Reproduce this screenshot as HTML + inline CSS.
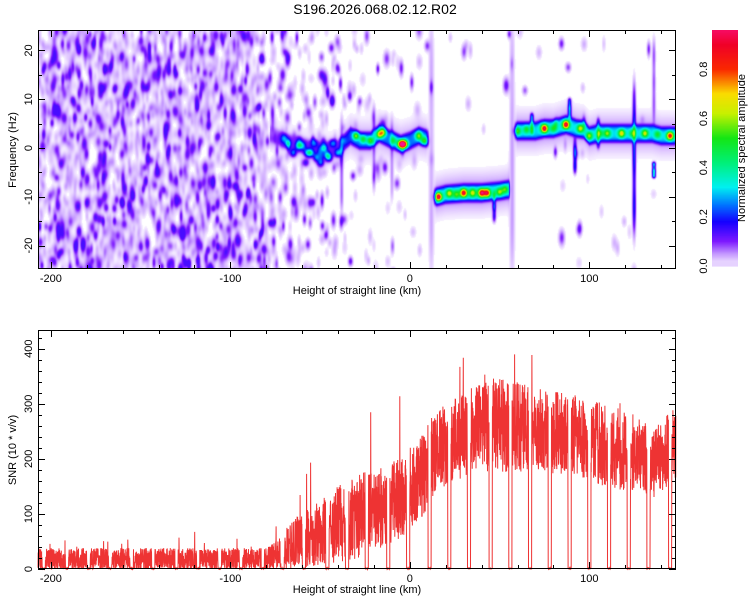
<!DOCTYPE html>
<html><head><meta charset="utf-8">
<style>
body{margin:0;background:#fff;width:750px;height:600px;overflow:hidden;font-family:"Liberation Sans",sans-serif;}
#root{position:relative;width:750px;height:600px;}
canvas{position:absolute;}
svg{position:absolute;left:0;top:0;}
</style></head>
<body>
<div id="root">
<canvas id="hm" width="638" height="239" style="left:38px;top:30px"></canvas>
<svg id="ov" width="750" height="600">
<text x="375" y="14" text-anchor="middle" font-size="14">S196.2026.068.02.12.R02</text>
<text x="357" y="294" text-anchor="middle" font-size="11">Height of straight line (km)</text>
<text transform="translate(16,150) rotate(-90)" text-anchor="middle" font-size="11">Frequency (Hz)</text>
<text x="357" y="593" text-anchor="middle" font-size="11">Height of straight line (km)</text>
<text transform="translate(16,450) rotate(-90)" text-anchor="middle" font-size="11">SNR (10 * v/v)</text>
<text transform="translate(745,148) rotate(-90)" text-anchor="middle" font-size="11">Normalized spectral amplitude</text>
<g id="g"></g>
</svg>
</div>
<script>
// ---------- data ----------
const xTickLabels=[-200,-100,0,100];
const fTickLabels=[-20,-10,0,10,20];
const snrTickLabels=[0,100,200,300,400];
const cbTickLabels=[0.0,0.2,0.4,0.6,0.8];
// ridge
const ridgeKm=[-78,-70,-60,-50,-40,-33,-28,-22,-17,-12,-5,0,5,9,11,13,15,20,30,40,50,55,56,58,60,70,75,80,87,93,97,100,105,110,115,120,125,130,135,140,145,149];
const ridgeFreq=[3,1.5,0.5,-0.5,0,2.5,1.5,1.5,3,2,0.8,1.5,2.5,2,2,-10,-10,-9.5,-9.2,-9.2,-8.8,-8.5,-8.5,3.5,3.5,3.5,4,4,4.8,4,3.8,2.5,3,3,3,3,3,3,3,2.5,2.5,2.5];
const ridgeAmp=[0.05,0.07,0.08,0.08,0.08,0.18,0.2,0.2,0.22,0.2,0.22,0.2,0.22,0.2,0,0,0.26,0.26,0.28,0.28,0.26,0.26,0,0,0.25,0.25,0.27,0.25,0.27,0.25,0.25,0.25,0.25,0.25,0.25,0.25,0.25,0.25,0.25,0.25,0.25,0.25];
// bright spots
const spotKm=[-5,-3,-30,-26,-22,-17,-15,-9,5,8,16,22,26,30,35,40,43,50,53,60,65,75,80,87,95,100,106,110,118,124,131,138,145,-70,-68,-65,-62,-60,-57,-55,-52,-50,-48,-46,-45,-43,-40,-37,-58,-53];
const spotFreq=[0.8,0.8,2.5,1.8,1.5,2.8,3.2,1.5,2.5,1.5,-10,-9.3,-9.5,-9.2,-9.2,-9.2,-9.2,-9,-8.5,3.5,3.8,4,4,4.8,4,2.5,3,3,3,3,3,2.8,2.5,2,1,-1,0.5,0.5,-1,-1,-2,-3,0,-1.5,-2,1,-1,1.5,-3,1];
const spotAmp=[0.85,0.8,0.55,0.45,0.5,0.6,0.55,0.4,0.55,0.5,0.9,0.6,0.5,0.88,0.6,0.9,0.85,0.55,0.5,0.5,0.45,0.9,0.45,0.9,0.6,0.55,0.45,0.55,0.65,0.45,0.6,0.45,0.85,0.25,0.3,0.3,0.3,0.25,0.3,0.28,0.28,0.25,0.3,0.25,0.3,0.25,0.28,0.22,0.22,0.22];
// vertical streaks
const streakKm=[12,57,125,136,136,89,47,68,105,92,-20,-10,-38];
const streakTop=[24,24,12,-3,22,10,-9,7,6,2,8,6,6];
const streakBot=[-25,-25,-17,-6,5,6,-15,3,0,-5,-8,-10,-12];
const streakAmp=[0.018,0.018,0.1,0.18,0.04,0.13,0.1,0.1,0.08,0.08,0.03,0.025,0.04];
// noise density by km
const noiseKm=[-207,-85,-80,-60,-35,-20,10,149];
const noiseDensity=[0.88,0.88,0.55,0.38,0.22,0.1,0.04,0.02];
// SNR envelope
const snrKm=[-207,-80,-75,-65,-55,-45,-35,-25,-15,-5,5,15,25,35,45,55,65,75,85,95,105,115,125,135,145,149];
const snrCenter=[18,18,25,45,60,75,90,100,110,130,160,215,235,250,262,258,255,250,245,240,228,220,212,190,220,230];
const snrSpread=[20,20,25,45,55,65,75,80,75,75,75,75,75,80,85,85,80,75,75,75,75,75,70,65,65,65];
const dropKm=[-204,-191,-179,-167,-155,-143,-130,-118,-106,-94,-82,-71,-59,-46,-35,-24,-12,-1,11,22,33,45,56,67,78,89,100,111,122,133,145];

// ---------- axes ----------
const X0=38,X1=676,KM0=-207.2,KM1=148.3;
const xs=k=>X0+(k-KM0)/(KM1-KM0)*(X1-X0);
const T1=30,B1=269,F0=-24.8,F1=24.2;
const ys1=f=>B1-(f-F0)/(F1-F0)*(B1-T1);
const T2=330,B2=569,S1=434;
const ys2=v=>B2-v/S1*(B2-T2);
const CB0=266,CBT=30;
const ycb=v=>CB0-v/0.96*(CB0-CBT);

function interp(a,b,x){if(x<=a[0])return b[0];for(let i=1;i<a.length;i++){if(x<=a[i]){const t=(x-a[i-1])/(a[i]-a[i-1]);return b[i-1]+t*(b[i]-b[i-1]);}}return b[b.length-1];}
function hash(n){let x=Math.sin(n*127.1+311.7)*43758.5453;return x-Math.floor(x);}

// colormap
const cmV=[0,0.015,0.05,0.1,0.18,0.25,0.32,0.42,0.52,0.62,0.7,0.8,0.9,1];
const cmC=[[255,255,255],[236,220,255],[195,150,255],[125,25,255],[20,0,255],[0,120,255],[0,240,240],[0,240,120],[20,230,20],[200,240,0],[250,220,0],[250,40,0],[240,0,40],[250,20,140]];
function cmap(v){if(v<=0.006)return cmC[0];for(let i=1;i<cmV.length;i++){if(v<=cmV[i]){const t=(v-cmV[i-1])/(cmV[i]-cmV[i-1]);return cmC[i].map((c,j)=>Math.round(cmC[i-1][j]+t*(c-cmC[i-1][j])));}}return cmC[cmC.length-1];}

// ---------- heatmap ----------
(function(){
const W=638,H=239,cv=document.getElementById('hm'),ctx=cv.getContext('2d');
const fld=new Float32Array(W*H);
const nz=new Float32Array(W*H);
const pxKm=(X1-X0)/(KM1-KM0), pxHz=(B1-T1)/(F1-F0);
// ridge
for(let px=0;px<W;px++){const k=KM0+(px+0.5)/pxKm;const F=interp(ridgeKm,ridgeFreq,k),A=(k<ridgeKm[0]?0:interp(ridgeKm,ridgeAmp,k));
 if(A<=0)continue;for(let py=0;py<H;py++){const f=F1-(py+0.5)/pxHz;const d=(f-F)/1.7,d2=(f-F)/3.5;fld[py*W+px]+=A*Math.exp(-d*d*d*d)+0.22*A*Math.exp(-d2*d2);}}
function blob(arr,k,f,a,sk,sf){const cx=xs(k)-X0,cy=ys1(f)-T1,rx=sk*pxKm,ry=sf*pxHz;
 for(let py=Math.max(0,Math.floor(cy-3*ry));py<Math.min(H,cy+3*ry);py++)for(let px=Math.max(0,Math.floor(cx-3*rx));px<Math.min(W,cx+3*rx);px++){const dx=(px+0.5-cx)/rx,dy=(py+0.5-cy)/ry;arr[py*W+px]+=a*Math.exp(-(dx*dx+dy*dy));}}
for(let i=0;i<spotKm.length;i++){const a=spotAmp[i]-interp(ridgeKm,ridgeAmp,spotKm[i]);blob(fld,spotKm[i],spotFreq[i],Math.max(0.05,a),1.8,0.8);}
// streaks
for(let i=0;i<streakKm.length;i++){const c=(streakTop[i]+streakBot[i])/2,h=(streakTop[i]-streakBot[i])/2;
 for(let j=-4;j<=4;j++)blob(fld,streakKm[i],c+h*j/4.5,streakAmp[i]*(0.6+0.8*hash(i*9+j)),i<2?1.4:0.9,h/4);}
// noise texture (density-driven), capped so background stays purple
let n=0;for(let k=KM0;k<KM1;k+=2.0){const d=interp(noiseKm,noiseDensity,k);
 for(let f=F0;f<F1;f+=2.1){n++;const r=hash(n);if(r<d){const q=hash(n+0.37);const a=q>0.7?0.065+0.06*hash(n+0.2):0.018+0.03*q;
  blob(nz,k+2.0*(hash(n+0.11)-0.5),f+2.1*(hash(n+0.53)-0.5),a,0.9+0.8*hash(n+0.7),0.8+0.7*hash(n+0.9));}}}
const img=ctx.createImageData(W,H);
for(let i=0;i<W*H;i++){const c=cmap(fld[i]+Math.min(nz[i],0.14));img.data[4*i]=c[0];img.data[4*i+1]=c[1];img.data[4*i+2]=c[2];img.data[4*i+3]=255;}
ctx.putImageData(img,0,0);
})();

// ---------- svg overlay ----------
const NS='http://www.w3.org/2000/svg',G=document.getElementById('g');
function el(t,a,p){const e=document.createElementNS(NS,t);for(const k in a)e.setAttribute(k,a[k]);(p||G).appendChild(e);return e;}

// SNR line
(function(){let pts=[];let i=0;
for(let k=KM0;k<=KM1;k+=0.09){i++;let v;
 let nearDrop=dropKm.some(d=>Math.abs(k-d)<0.9);
 if(nearDrop){v=2*hash(i);}else{const c=interp(snrKm,snrCenter,k),s=interp(snrKm,snrSpread,k);
  v=c+s*(2*hash(i)-1);if(hash(i+0.5)>0.985)v+=s*(0.6+1.2*hash(i+0.8));}
 v=Math.max(0,Math.min(S1,v));pts.push(xs(k).toFixed(1)+','+ys2(v).toFixed(1));}
const pl=el('polyline',{points:pts.join(' '),fill:'none',stroke:'#ee3333','stroke-width':'1'});


el('line',{x1:X0,x2:X1,y1:B2-0.5,y2:B2-0.5,stroke:'#888','stroke-width':'1'});
})();

// colorbar
(function(){for(let v=0;v<0.96;v+=0.005){const c=cmap(Math.max(v,0.02));
 el('rect',{x:712,y:ycb(v+0.005),width:26,height:(CB0-CBT)*0.005/0.96+0.6,fill:'rgb('+c.join(',')+')'});}
const cb=el('rect',{x:712,y:CBT,width:26,height:CB0-CBT,fill:'none',stroke:'none'});


cbTickLabels.forEach(v=>{const t=el('text',{transform:'translate(707,'+ycb(v)+') rotate(-90)','text-anchor':'middle','font-size':'11'});t.textContent=v.toFixed(1);
 
 });
})();

function frame(T,B,yfun,yMajor,yMinorStep,yMin,yMax,labels,nm){
 const r=el('rect',{x:X0+0.5,y:T+0.5,width:X1-X0-1,height:B-T-1,fill:'none',stroke:'#000','stroke-width':'1'});
 
 
 for(let k=-200;k<=KM1;k+=20){const x=Math.round(xs(k))+0.5;const L=(k%100===0)?7:4;
  el('line',{x1:x,x2:x,y1:B,y2:B-L,stroke:'#000'});el('line',{x1:x,x2:x,y1:T,y2:T+L,stroke:'#000'});}
 xTickLabels.forEach(k=>{const t=el('text',{x:xs(k),y:B+13,'text-anchor':'middle','font-size':'11'});t.textContent=k;
  
  });
 for(let v=Math.ceil(yMin/yMinorStep)*yMinorStep;v<=yMax;v+=yMinorStep){const y=Math.round(yfun(v))+0.5;const L=(v%yMajor===0)?7:4;
  el('line',{x1:X0,x2:X0+L,y1:y,y2:y,stroke:'#000'});el('line',{x1:X1,x2:X1-L,y1:y,y2:y,stroke:'#000'});}
 labels.forEach(v=>{const t=el('text',{transform:'translate(32,'+yfun(v)+') rotate(-90)','text-anchor':'middle','font-size':'11'});t.textContent=v;
  
  });
}
frame(T1,B1,ys1,10,5,F0,F1,fTickLabels,'spectrogram');
frame(T2,B2,ys2,100,20,0,S1,snrTickLabels,'snr');
</script>
</body></html>
